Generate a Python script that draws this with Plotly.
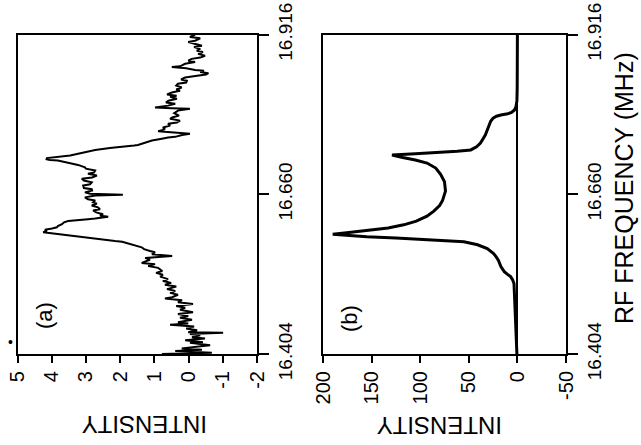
import plotly.graph_objects as go

# ---- (a) observed spectrum: RF frequency (MHz) vs intensity ----
freq_a = [
    16.404, 16.406, 16.409, 16.411, 16.413, 16.415, 16.418, 16.422, 16.423, 16.426,
    16.429, 16.431, 16.434, 16.436, 16.438, 16.439, 16.442, 16.445, 16.448, 16.451,
    16.453, 16.455, 16.459, 16.462, 16.465, 16.468, 16.471, 16.475, 16.478, 16.481,
    16.484, 16.487, 16.490, 16.493, 16.495, 16.499, 16.502, 16.505, 16.508, 16.512,
    16.515, 16.518, 16.521, 16.524, 16.528, 16.531, 16.534, 16.537, 16.542, 16.545,
    16.548, 16.550, 16.555, 16.558, 16.561, 16.564, 16.567, 16.569, 16.572, 16.575,
    16.578, 16.581, 16.584, 16.585, 16.588, 16.591, 16.594, 16.597, 16.599, 16.601,
    16.603, 16.605, 16.607, 16.609, 16.612, 16.615, 16.617, 16.620, 16.621, 16.624,
    16.626, 16.628, 16.631, 16.634, 16.636, 16.639, 16.642, 16.645, 16.647, 16.650,
    16.652, 16.655, 16.658, 16.659, 16.661, 16.663, 16.666, 16.668, 16.670, 16.674,
    16.676, 16.679, 16.682, 16.685, 16.687, 16.690, 16.693, 16.695, 16.698, 16.701,
    16.703, 16.707, 16.709, 16.712, 16.714, 16.715, 16.716, 16.718, 16.720, 16.722,
    16.725, 16.728, 16.731, 16.734, 16.736, 16.738, 16.739, 16.741, 16.743, 16.746,
    16.749, 16.751, 16.752, 16.755, 16.757, 16.759, 16.761, 16.764, 16.767, 16.770,
    16.773, 16.775, 16.778, 16.781, 16.783, 16.786, 16.790, 16.794, 16.797, 16.798,
    16.799, 16.802, 16.805, 16.807, 16.810, 16.813, 16.816, 16.818, 16.820, 16.823,
    16.826, 16.828, 16.831, 16.834, 16.837, 16.839, 16.842, 16.844, 16.847, 16.850,
    16.852, 16.854, 16.856, 16.858, 16.859, 16.862, 16.864, 16.865, 16.869, 16.872,
    16.874, 16.877, 16.879, 16.882, 16.885, 16.888, 16.890, 16.893, 16.896, 16.898,
    16.901, 16.904, 16.906, 16.910, 16.912, 16.914, 16.916,
]
int_a = [
    0.78, -0.68, 0.39, -0.39, 0.20, -0.19, -0.63, -0.04, -0.42, 0.10,
    -0.48, -0.10, -0.34, -0.04, -1.01, 0.01, -0.25, 0.07, -0.16, 0.54,
    0.01, 0.31, -0.10, 0.25, 0.01, 0.31, -0.13, 0.25, 0.10, 0.36,
    -0.13, 0.31, 0.19, 0.69, 0.48, 0.31, 0.54, 0.39, 0.63, 0.36,
    0.69, 0.51, 0.75, 0.60, 0.83, 0.75, 0.95, 0.77, 0.89, 1.18,
    0.98, 1.37, 1.13, 1.27, 0.48, 1.07, 0.98, 1.13, 1.30, 1.37,
    1.56, 1.77, 1.94, 2.15, 2.59, 3.11, 3.52, 3.99, 4.25, 4.14,
    4.20, 3.99, 3.85, 3.82, 3.70, 3.64, 3.52, 2.94, 2.73, 2.35,
    2.59, 2.50, 2.70, 2.79, 2.59, 2.65, 2.83, 2.68, 2.79, 2.73,
    2.94, 3.03, 2.73, 1.92, 2.88, 3.03, 2.82, 2.83, 3.06, 3.08,
    2.88, 2.83, 3.06, 3.12, 2.82, 2.68, 2.94, 2.76, 2.73, 3.00,
    3.03, 3.23, 3.42, 3.64, 3.82, 4.05, 4.15, 4.14, 3.71, 3.46,
    3.23, 3.00, 2.73, 2.30, 1.86, 1.59, 1.48, 1.36, 1.27, 1.07,
    0.78, 0.60, 0.39, 0.19, -0.04, 0.54, 0.89, 0.69, 0.75, 0.54,
    0.60, 0.34, 0.25, 0.54, 0.48, 0.28, 0.42, 0.31, -0.04, 0.49,
    0.98, 0.60, 0.39, 0.66, 0.59, 0.34, 0.54, 0.35, 0.63, 0.49,
    0.25, 0.36, 0.20, 0.36, 0.31, 0.07, 0.05, 0.22, 0.10, -0.25,
    -0.51, -0.58, -0.34, -0.45, -0.19, 0.07, 0.49, 0.25, 0.10, -0.19,
    0.01, -0.09, -0.34, -0.48, -0.28, -0.42, -0.24, -0.34, -0.16, -0.39,
    -0.22, 0.01, -0.19, -0.34, -0.04, -0.10, -0.19,
]

# ---- (b) calculated line shape ----
freq_b = [
    16.404, 16.440, 16.480, 16.509, 16.517, 16.523, 16.528, 16.532, 16.536, 16.544,
    16.554, 16.560, 16.565, 16.573, 16.579, 16.584, 16.586, 16.588, 16.590, 16.592,
    16.594, 16.596, 16.598, 16.600, 16.603, 16.606, 16.611, 16.617, 16.625, 16.633,
    16.642, 16.650, 16.665, 16.680, 16.692, 16.702, 16.710, 16.715, 16.719, 16.722,
    16.723, 16.725, 16.727, 16.729, 16.731, 16.736, 16.742, 16.755, 16.765, 16.772,
    16.777, 16.782, 16.785, 16.787, 16.788, 16.789, 16.791, 16.795, 16.800, 16.810,
    16.830, 16.870, 16.916,
]
int_b = [
    0.5, 1.5, 2.0, 2.7, 3.5, 5, 7, 10.5, 13.5, 17,
    19.5, 22, 24.5, 31, 41, 55, 75, 100, 125, 155,
    178, 190, 178, 165, 148, 133, 117, 104, 93, 86,
    80, 77, 74, 75, 79, 84, 93, 105, 118, 127,
    129, 105, 80, 62, 48, 42, 38, 33, 30.5, 29,
    27.5, 25, 21.5, 17, 13, 10, 6, 3, 1.5, 0.5,
    0.2, 0, 0,
]

# ---- axis ticks ----
int_ticks_a = [5, 4, 3, 2, 1, 0, -1, -2]
int_ticks_b = [200, 150, 100, 50, 0, -50]
freq_ticks = [16.404, 16.660, 16.916]
freq_labels = ["16.404", "16.660", "16.916"]

W, H = 641, 445
FONT = "Liberation Sans, Arial, Helvetica, sans-serif"

fig = go.Figure()
fig.add_trace(go.Scatter(x=int_a, y=freq_a, mode="lines",
                         line=dict(color="black", width=2),
                         xaxis="x", yaxis="y", showlegend=False))
fig.add_trace(go.Scatter(x=int_b, y=freq_b, mode="lines",
                         line=dict(color="black", width=3),
                         xaxis="x2", yaxis="y2", showlegend=False))


def px_x(p):
    return p / W


def px_y(p):
    return 1 - p / H


y_dom = [px_y(354), px_y(34.5)]

int_axis = dict(
    showline=True, linecolor="black", linewidth=2, mirror=True,
    ticks="outside", ticklen=7, tickwidth=2, tickcolor="black",
    tickangle=-90, showgrid=False, automargin=False,
    tickfont=dict(family=FONT, size=20, color="black"),
)
freq_axis = dict(
    range=[16.404, 16.916], side="right",
    showline=True, linecolor="black", linewidth=2, mirror=True,
    ticks="outside", ticklen=10, tickwidth=2, tickcolor="black",
    tickvals=freq_ticks, ticktext=freq_labels, tickangle=-90,
    showgrid=False, zeroline=False, domain=y_dom, automargin=False,
    tickfont=dict(family=FONT, size=19, color="black"),
)

fig.update_layout(
    template="none",
    width=W, height=H,
    margin=dict(l=0, r=0, t=0, b=0, pad=0),
    paper_bgcolor="white", plot_bgcolor="white",
    xaxis=dict(int_axis, range=[5, -2], domain=[px_x(17.5), px_x(257)],
               tickvals=int_ticks_a, ticktext=[str(v) for v in int_ticks_a],
               zeroline=False, anchor="y"),
    xaxis2=dict(int_axis, range=[200, -50], domain=[px_x(323), px_x(566)],
                tickvals=int_ticks_b, ticktext=[str(v) for v in int_ticks_b],
                zeroline=True, zerolinecolor="black", zerolinewidth=1.5,
                anchor="y2"),
    yaxis=dict(freq_axis, anchor="x"),
    yaxis2=dict(freq_axis, anchor="x2"),
)

ann_font = dict(family=FONT, color="black")
annotations = [
    dict(text="INTENSITY", x=px_x(145), y=px_y(425), textangle=180,
         font=dict(ann_font, size=24)),
    dict(text="INTENSITY", x=px_x(440), y=px_y(426), textangle=180,
         font=dict(ann_font, size=24)),
    dict(text="RF FREQUENCY (MHz)", x=px_x(624), y=px_y(188), textangle=-90,
         font=dict(ann_font, size=25)),
    dict(text="(a)", x=px_x(44), y=px_y(316), textangle=-90,
         font=dict(ann_font, size=22)),
    dict(text="(b)", x=px_x(349), y=px_y(319), textangle=-90,
         font=dict(ann_font, size=22)),
    dict(text="\u2022", x=px_x(10), y=px_y(342), font=dict(ann_font, size=14)),
]
for a in annotations:
    a.update(xref="paper", yref="paper", showarrow=False,
             xanchor="center", yanchor="middle")
fig.update_layout(annotations=annotations)

fig.write_html("out.html")
